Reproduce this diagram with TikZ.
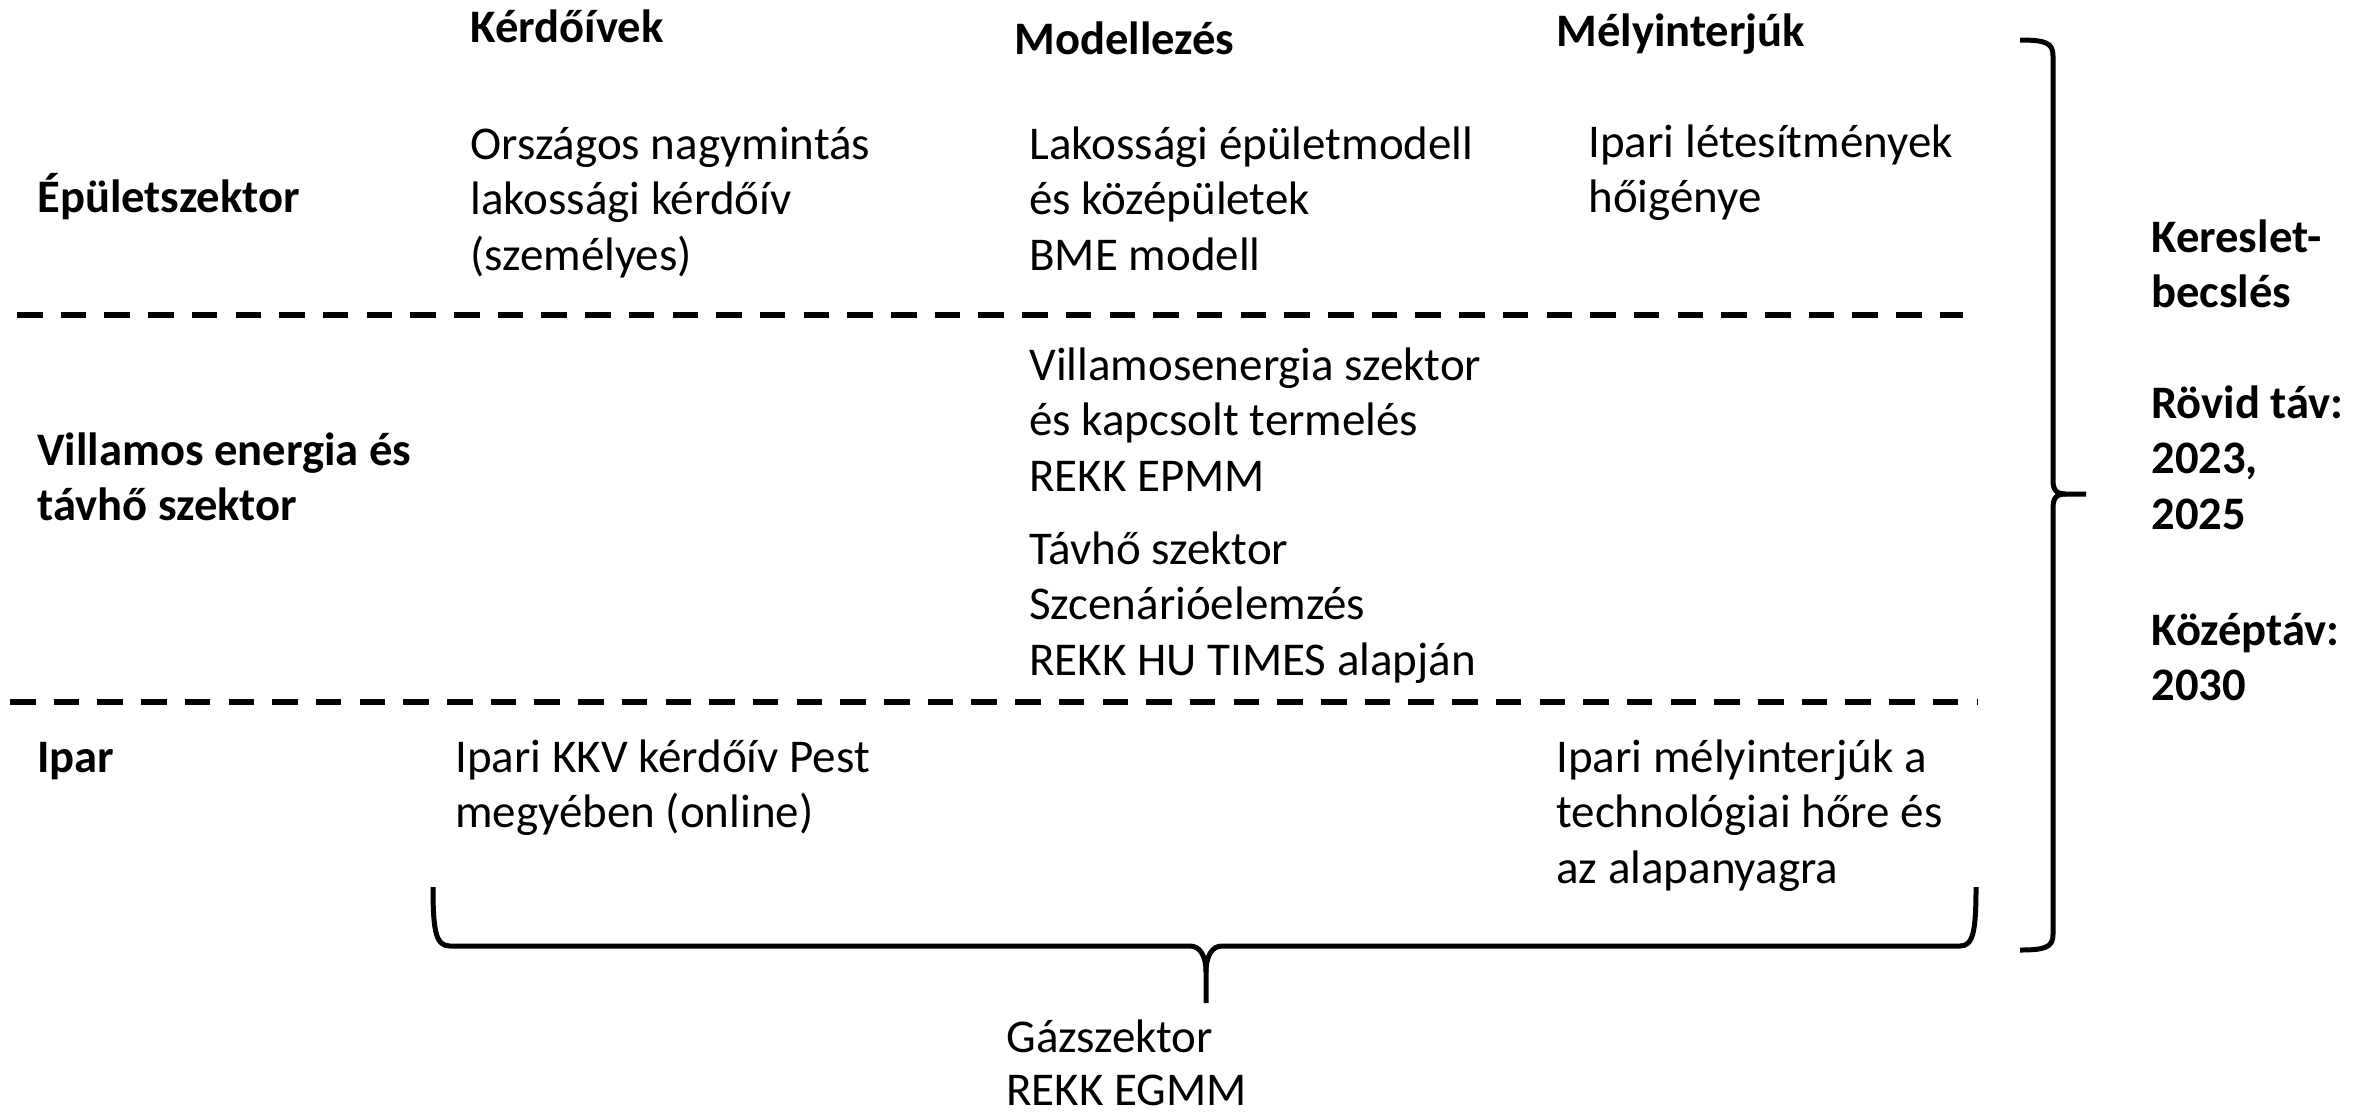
\documentclass[tikz,border=0pt]{standalone}
\usepackage{fontspec}
\setmainfont{Carlito}
\newcommand\mlines[1]{\begin{tabular}[t]{@{}l@{}}#1\end{tabular}}
\begin{document}
\begin{tikzpicture}[x=0.5pt,y=-0.5pt,
  txt/.style={anchor=base west, inner sep=0pt, font=\fontsize{23.5}{27.75}\selectfont},
  hdr/.style={anchor=base west, inner sep=0pt, font=\fontsize{23.3}{27.75}\selectfont\bfseries},
  sep/.style={line width=2.65pt, dash pattern=on 12.75pt off 9.1pt},
  brace/.style={line width=2.5pt, line join=round}]
\useasboundingbox (0,0) rectangle (2369,1115);

% column headers
\node[hdr] (hkerd) at (470,42) {Kérdőívek};
\node[hdr] (hmod)  at (1014,54) {Modellezés};
\node[hdr] (hmely) at (1556,46) {Mélyinterjúk};

% row headers
\node[hdr] (repul) at (37,212) {Épületszektor};
\node[hdr] (rvill) at (37,465) {\mlines{Villamos energia és\\távhő szektor}};
\node[hdr] (ripar) at (37,772) {Ipar};

% cells
\node[txt] (c11) at (470,159) {\mlines{Országos nagymintás\\lakossági kérdőív\\(személyes)}};
\node[txt] (c12) at (1029,159) {\mlines{Lakossági épületmodell\\és középületek\\BME modell}};
\node[txt] (c13) at (1588,157) {\mlines{Ipari létesítmények\\hőigénye}};
\node[txt] (c22a) at (1029,380) {\mlines{Villamosenergia szektor\\és kapcsolt termelés\\REKK EPMM}};
\node[txt] (c22b) at (1029,564) {\mlines{Távhő szektor\\Szcenárióelemzés\\REKK HU TIMES alapján}};
\node[txt] (c31) at (455,772) {\mlines{Ipari KKV kérdőív Pest\\megyében (online)}};
\node[txt] (c33) at (1556,772) {\mlines{Ipari mélyinterjúk a\\technológiai hőre és\\az alapanyagra}};

% gas sector
\node[txt] (gaz) at (1006,1052) {Gázszektor};
\node[txt] (gaz2) at (1006,1105) {REKK EGMM};

% right side labels
\node[hdr] (kb) at (2151,252) {\mlines{Kereslet-\\becslés}};
\node[hdr] (rt) at (2151,418) {\mlines{Rövid táv:\\2023,\\2025}};
\node[hdr] (kt) at (2151,645) {\mlines{Középtáv:\\2030}};

% dashed separators
\coordinate (s1a) at (17,315);  \coordinate (s1b) at (1963,315);
\coordinate (s2a) at (10,702);  \coordinate (s2b) at (1977,702);
\draw[sep] (s1a) -- (s1b);
\draw[sep] (s2a) -- (s2b);

% bottom brace
\coordinate (bl) at (433,887);
\coordinate (br) at (1976,887);
\coordinate (bt) at (1206,1003);
\draw[brace] (bl) .. controls (433,932) and (436,946) .. (450,946) -- (1190,946)
  .. controls (1200,946) and (1206,956) .. (1206,972) -- (bt);
\draw[brace] (1206,972) .. controls (1206,956) and (1212,946) .. (1222,946) -- (1960,946)
  .. controls (1973,946) and (1976,932) .. (br);

% right brace
\coordinate (rtop) at (2020,40);
\coordinate (rbot) at (2020,950);
\coordinate (rtip) at (2086,494);
\draw[brace] (rtop) .. controls (2046,40) and (2053,43) .. (2053,56) -- (2053,480)
  .. controls (2053,490) and (2056,494) .. (2066,494) -- (rtip);
\draw[brace] (2066,494) .. controls (2056,494) and (2053,498) .. (2053,508) -- (2053,934)
  .. controls (2053,947) and (2046,950) .. (rbot);
\end{tikzpicture}
\end{document}
